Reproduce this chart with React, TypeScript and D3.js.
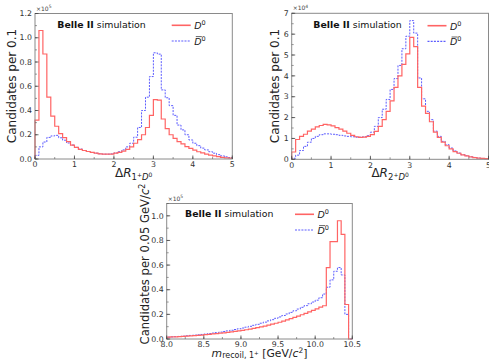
import React from 'react';
import * as d3 from 'd3';

// ---------- data ----------
// ΔR(1+, D0): 50 bins of 0.1 from 0 to 5, units of 1e5
const dr1Red = [0.32, 1.06, 0.866, 0.51, 0.354, 0.27, 0.21, 0.176, 0.143, 0.115,
  0.096, 0.08, 0.07, 0.062, 0.054, 0.048, 0.043, 0.04, 0.04, 0.04,
  0.048, 0.055, 0.065, 0.08, 0.10, 0.13, 0.16, 0.20, 0.26, 0.36,
  0.49, 0.485, 0.33, 0.25, 0.20, 0.17, 0.143, 0.124, 0.102, 0.088,
  0.074, 0.06, 0.05, 0.04, 0.032, 0.025, 0.019, 0.014, 0.01, 0.007];
const dr1Blue = [0.03, 0.10, 0.14, 0.178, 0.19, 0.195, 0.175, 0.155, 0.132, 0.115,
  0.096, 0.082, 0.07, 0.062, 0.054, 0.048, 0.043, 0.04, 0.04, 0.042,
  0.05, 0.06, 0.075, 0.10, 0.13, 0.18, 0.26, 0.40, 0.51, 0.68,
  0.876, 0.865, 0.57, 0.505, 0.44, 0.36, 0.28, 0.24, 0.20, 0.157,
  0.13, 0.11, 0.09, 0.075, 0.06, 0.048, 0.036, 0.026, 0.018, 0.012];
// ΔR(2+, D0): 50 bins of 0.1, units of 1e4
const dr2Red = [0.35, 0.95, 1.1, 1.2, 1.35, 1.45, 1.55, 1.62, 1.67, 1.65,
  1.6, 1.52, 1.45, 1.35, 1.25, 1.15, 1.08, 1.05, 1.06, 1.1,
  1.18, 1.34, 1.58, 1.9, 2.3, 2.8, 3.45, 4.0, 4.55, 5.05,
  5.85, 5.4, 3.45, 2.55, 2.2, 1.8, 1.3, 1.05, 0.82, 0.65,
  0.5, 0.37, 0.29, 0.21, 0.16, 0.12, 0.08, 0.06, 0.04, 0.03];
const dr2Blue = [0.05, 0.2, 0.42, 0.62, 0.82, 1.0, 1.1, 1.18, 1.22, 1.22,
  1.2, 1.18, 1.15, 1.12, 1.1, 1.08, 1.06, 1.06, 1.08, 1.13,
  1.3, 1.58, 2.0, 2.4, 2.87, 3.35, 3.87, 4.5, 5.3, 5.9,
  6.65, 6.05, 3.9, 2.9, 2.3, 1.9, 1.35, 1.1, 0.86, 0.7,
  0.54, 0.4, 0.3, 0.22, 0.17, 0.12, 0.09, 0.06, 0.04, 0.03];
// m_recoil: 50 bins of 0.05 GeV from 8.0 to 10.5, units of 1e5
const mRecRed = [0.015, 0.017, 0.018, 0.020, 0.022, 0.024, 0.026, 0.028, 0.030, 0.032,
  0.035, 0.038, 0.041, 0.044, 0.047, 0.050, 0.054, 0.058, 0.062, 0.066,
  0.070, 0.075, 0.080, 0.086, 0.092, 0.098, 0.105, 0.112, 0.120, 0.128,
  0.136, 0.145, 0.155, 0.165, 0.175, 0.186, 0.197, 0.208, 0.220, 0.232,
  0.245, 0.258, 0.270, 0.58, 0.79, 0.79, 0.96, 0.85, 0.28, 0];
const mRecBlue = [0.015, 0.017, 0.019, 0.021, 0.023, 0.026, 0.029, 0.031, 0.034, 0.037,
  0.040, 0.044, 0.048, 0.052, 0.056, 0.061, 0.066, 0.071, 0.077, 0.083,
  0.089, 0.096, 0.103, 0.111, 0.119, 0.128, 0.137, 0.147, 0.157, 0.168,
  0.179, 0.191, 0.203, 0.216, 0.229, 0.243, 0.257, 0.271, 0.286, 0.300,
  0.315, 0.335, 0.365, 0.42, 0.48, 0.55, 0.58, 0.52, 0.20, 0];

const drXTicks = [0, 1, 2, 3, 4, 5];
const dr1YTicks = [0, 0.2, 0.4, 0.6, 0.8, 1.0, 1.2];
const dr2YTicks = [0, 1, 2, 3, 4, 5, 6, 7];
const mXTicks = [8.0, 8.5, 9.0, 9.5, 10.0, 10.5];
const mYTicks = [0, 0.2, 0.4, 0.6, 0.8, 1.0];

const RED = '#ff6464';
const BLUE = '#5c5cff';
const FONT = 'DejaVu Sans';

type Box = { l: number; r: number; t: number; b: number };

function stepPath(edges: number[], vals: number[], x: any, y: any) {
  let d = `M${x(edges[0])},${y(0)}`;
  vals.forEach((v, i) => {
    d += `V${y(v)}H${x(edges[i + 1])}`;
  });
  d += `V${y(0)}`;
  return d;
}

function Dzero({ x, y, bar }: { x: number; y: number; bar?: boolean }) {
  return (
    <g>
      <text x={x} y={y} fontFamily={FONT} fontSize={9.5} fill="#222">
        <tspan fontStyle="italic">D</tspan>
        <tspan dy={-4} fontSize={6.5}>0</tspan>
      </text>
      {bar && <line x1={x + 1.6} x2={x + 7.6} y1={y - 8.4} y2={y - 8.4} stroke="#222" strokeWidth={0.7} />}
    </g>
  );
}

function Panel(props: {
  box: Box; xDomain: [number, number]; yDomain: [number, number];
  xTicks: number[]; yTicks: number[]; xFmt: (v: number) => string; yFmt: (v: number) => string;
  red: number[]; blue: number[]; exponent: string;
  belle: [number, number]; legend: [number, number]; tickGap?: number;
}) {
  const { box, xDomain, yDomain, xTicks, yTicks, xFmt, yFmt, red, blue, exponent, belle, legend } = props;
  const tickGap = props.tickGap ?? 8.3;
  const x = d3.scaleLinear().domain(xDomain).range([box.l, box.r]);
  const y = d3.scaleLinear().domain(yDomain).range([box.b, box.t]);
  const n = red.length;
  const edges = d3.range(n + 1).map(i => xDomain[0] + (i * (xDomain[1] - xDomain[0])) / n);
  const xStep = xTicks[1] - xTicks[0];
  const yStep = yTicks[1] - yTicks[0];
  const xMinor = d3.range(xDomain[0], xDomain[1] + 1e-9, xStep / 2);
  const yMinor = d3.range(yDomain[0], yDomain[1] + 1e-9, yStep / 2);
  return (
    <g>
      <path d={stepPath(edges, blue, x, y)} fill="none" stroke={BLUE} strokeWidth={1} strokeDasharray="2,1.2" />
      <path d={stepPath(edges, red, x, y)} fill="none" stroke={RED} strokeWidth={1.2} />
      <rect x={box.l} y={box.t} width={box.r - box.l} height={box.b - box.t} fill="none" stroke="#8a8a8a" strokeWidth={1} />
      {xMinor.map((v, i) => (
        <line key={'xm' + i} x1={x(v)} x2={x(v)} y1={box.b} y2={box.b - 2} stroke="#555" strokeWidth={0.6} />
      ))}
      {xTicks.map((v, i) => (
        <g key={'xt' + i}>
          <line x1={x(v)} x2={x(v)} y1={box.b} y2={box.b - 3.5} stroke="#444" strokeWidth={0.8} />
          <text x={x(v)} y={box.b + tickGap} textAnchor="middle" fontFamily={FONT} fontSize={7.8} fill="#333">{xFmt(v)}</text>
        </g>
      ))}
      {yMinor.map((v, i) => (
        <line key={'ym' + i} x1={box.l} x2={box.l + 2} y1={y(v)} y2={y(v)} stroke="#555" strokeWidth={0.6} />
      ))}
      {yTicks.map((v, i) => (
        <g key={'yt' + i}>
          <line x1={box.l} x2={box.l + 3.5} y1={y(v)} y2={y(v)} stroke="#444" strokeWidth={0.8} />
          <text x={box.l - 3} y={y(v)} dy="0.35em" textAnchor="end" fontFamily={FONT} fontSize={7.8} fill="#333">{yFmt(v)}</text>
        </g>
      ))}
      <text x={box.l + 1} y={box.t - 3} fontFamily={FONT} fontSize={6} fill="#444">
        ×10<tspan dy={-2.5} fontSize={4.5}>{exponent}</tspan>
      </text>
      <text x={belle[0]} y={belle[1]} fontFamily={FONT} fontSize={9.4} fill="#111">
        <tspan fontWeight="bold">Belle II</tspan> simulation
      </text>
      <line x1={legend[0]} x2={legend[0] + 19} y1={legend[1]} y2={legend[1]} stroke={RED} strokeWidth={1.6} />
      <Dzero x={legend[0] + 22.5} y={legend[1] + 3.8} />
      <line x1={legend[0]} x2={legend[0] + 19} y1={legend[1] + 15.7} y2={legend[1] + 15.7} stroke={BLUE} strokeWidth={1.1} strokeDasharray="2,1.2" />
      <Dzero x={legend[0] + 22.5} y={legend[1] + 19.7} bar />
    </g>
  );
}

export default function App() {
  const f1 = (v: number) => v.toFixed(1);
  const f0 = (v: number) => String(v);
  const tl: Box = { l: 35, r: 232.3, t: 13.5, b: 159 };
  const tr: Box = { l: 291.7, r: 488.5, t: 13.3, b: 159.3 };
  const bt: Box = { l: 166.7, r: 352.3, t: 203.5, b: 339 };
  return (
    <svg width={489} height={360} style={{ position: 'absolute', left: 0, top: 0, background: '#fff' }}>
      <Panel box={tl} xDomain={[0, 5]} yDomain={[0, 1.2]} xTicks={drXTicks} yTicks={dr1YTicks}
        xFmt={f0} yFmt={f1} red={dr1Red} blue={dr1Blue} exponent="5" belle={[57.3, 28]} legend={[171.7, 25.3]} />
      <Panel box={tr} xDomain={[0, 5]} yDomain={[0, 7]} xTicks={drXTicks} yTicks={dr2YTicks}
        xFmt={f0} yFmt={f0} red={dr2Red} blue={dr2Blue} exponent="4" belle={[313.3, 28]} legend={[427.5, 25.7]} />
      <Panel box={bt} xDomain={[8, 10.5]} yDomain={[0, 1.1]} xTicks={mXTicks} yTicks={mYTicks} tickGap={8.2}
        xFmt={f1} yFmt={f1} red={mRecRed} blue={mRecBlue} exponent="5" belle={[185, 217]} legend={[295, 214.3]} />

      {/* y labels */}
      <text transform="translate(16,86) rotate(-90)" textAnchor="middle" fontFamily={FONT} fontSize={12} fill="#222">Candidates per 0.1</text>
      <text transform="translate(279,86) rotate(-90)" textAnchor="middle" fontFamily={FONT} fontSize={12} fill="#222">Candidates per 0.1</text>
      <text transform="translate(149,264) rotate(-90)" textAnchor="middle" fontFamily={FONT} fontSize={11.6} fill="#222">
        Candidates per 0.05 GeV/<tspan fontStyle="italic">c</tspan><tspan dy={-4.5} fontSize={8}>2</tspan>
      </text>

      {/* x labels */}
      {[tl, tr].map((b, i) => (
        <text key={i} x={(b.l + b.r) / 2} y={177.3} textAnchor="middle" fontFamily={FONT} fontSize={12} fill="#222">
          Δ<tspan fontStyle="italic">R</tspan>
          <tspan dy={3} fontSize={8.5}>{i === 0 ? '1' : '2'}</tspan>
          <tspan dy={-3.5} fontSize={6}>+</tspan>
          <tspan dy={3.5} fontSize={8.5} fontStyle="italic">D</tspan>
          <tspan dy={-3.5} fontSize={6}>0</tspan>
        </text>
      ))}
      <text x={259.5} y={357.2} textAnchor="middle" fontFamily={FONT} fontSize={10.8} fill="#222">
        <tspan fontStyle="italic">m</tspan>
        <tspan dy={1.2} fontSize={8}>recoil, 1</tspan>
        <tspan dy={-3.2} fontSize={5.6}>+</tspan>
        <tspan dy={2}>{'\u00a0'}[GeV/</tspan>
        <tspan fontStyle="italic">c</tspan>
        <tspan dy={-4} fontSize={7.5}>2</tspan>
        <tspan dy={4}>]</tspan>
      </text>
    </svg>
  );
}
